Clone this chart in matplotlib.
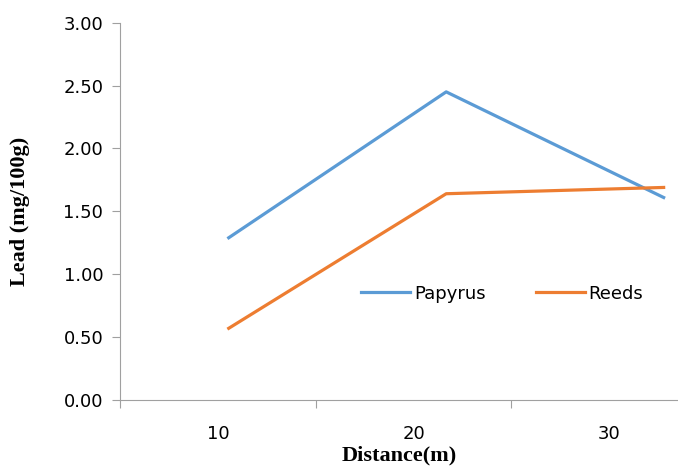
import matplotlib.pyplot as plt

distance = [10, 20, 30]
papyrus = [1.29, 2.45, 1.61]
reeds = [0.57, 1.64, 1.69]
tick_labels = ["10", "20", "30"]

fig = plt.figure(figsize=(6.78, 4.67), dpi=100)
ax = fig.add_axes([0.177, 0.1435, 0.823, 0.8079])

ax.plot(distance, papyrus, color="#5B9BD5", lw=2.3, label="Papyrus")
ax.plot(distance, reeds, color="#ED7D31", lw=2.3, label="Reeds")

# category-style x axis: tick marks between categories, labels in the middle
ax.set_xlim(5, 30.66)
ax.set_xticks([5, 14, 23])
ax.set_xticklabels([])
ax.set_xticks([9.5, 18.5, 27.5], minor=True)
ax.set_xticklabels(tick_labels, minor=True)
ax.tick_params(axis="x", which="minor", length=0, pad=18, labelsize=13)
ax.tick_params(axis="x", which="major", length=6, color="#A0A0A0", direction="out")

ax.set_ylim(0, 3)
ax.set_yticks([0, 0.5, 1, 1.5, 2, 2.5, 3])
ax.set_yticklabels([f"{v:.2f}" for v in ax.get_yticks()])
ax.tick_params(axis="y", length=6, color="#A0A0A0", labelsize=13, pad=6)

for s in ["top", "right"]:
    ax.spines[s].set_visible(False)
for s in ["left", "bottom"]:
    ax.spines[s].set_color("#A0A0A0")

ax.set_xlabel("Distance(m)", fontfamily="Liberation Serif", fontweight="bold",
              fontsize=16, labelpad=2)
ax.set_ylabel("Lead (mg/100g)", fontfamily="Liberation Serif", fontweight="bold",
              fontsize=16, labelpad=24)

ax.legend(loc="center", bbox_to_anchor=(0.685, 0.282), ncol=2, frameon=False,
          fontsize=13, handlelength=2.7, handletextpad=0.2, columnspacing=2.8)

fig.savefig("out.png", dpi=100)
